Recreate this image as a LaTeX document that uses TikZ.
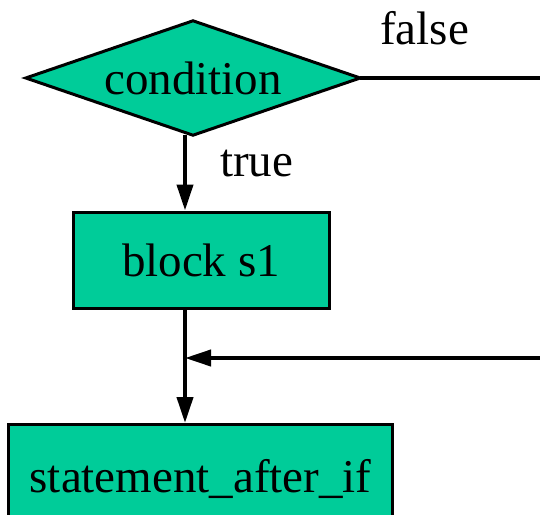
\documentclass[tikz,border=0pt]{standalone}
\usepackage{fontspec}
\setmainfont{Liberation Serif}
\usetikzlibrary{arrows.meta}
\definecolor{teal}{RGB}{0,204,153}
\tikzset{
  flow/.style={line width=4pt},
  arr/.style={flow,-{Triangle[length=26pt,width=16pt]}},
  boxnode/.style={draw,line width=3pt,fill=teal,rectangle,inner sep=0pt,
                  font=\fontsize{47}{56}\selectfont},
  decision/.style={rectangle,inner sep=0pt,
                  font=\fontsize{47}{56}\selectfont},
  decisionshape/.style={draw,line width=3pt,fill=teal,line join=miter},
  lbl/.style={font=\fontsize{47}{56}\selectfont,inner sep=0pt,anchor=base west}
}
\begin{document}
\begin{tikzpicture}[x=1pt,y=-1pt]
\useasboundingbox (0,0) rectangle (540,514);
\node[decision,minimum width=334pt,minimum height=114pt] (cond) at (193,78) {};
\draw[decisionshape] (cond.west) -- (cond.north) -- (cond.east) -- (cond.south) -- cycle;
\node[decision] (condtext) at (cond.center) {condition};
\node[boxnode,minimum width=256pt,minimum height=96pt] (s1) at (201,260) {block s1};
\node[boxnode,minimum width=384pt,minimum height=109pt] (after) at (200.6,479) {statement\_after\_if};
\coordinate (colx) at (185,0);
\coordinate (falseEnd) at (540,78);
\coordinate (backStart) at (540,358);
\coordinate (join) at (185,358);
\node[lbl] (flbl) at (380,44) {false};
\node[lbl] (tlbl) at (220,176) {true};
\draw[flow] (cond.east) -- (falseEnd);
\draw[arr] (cond.south -| colx) -- (s1.north -| colx);
\draw[arr] (s1.south -| colx) -- (after.north -| colx);
\draw[arr] (backStart) -- (join);
\end{tikzpicture}
\end{document}
